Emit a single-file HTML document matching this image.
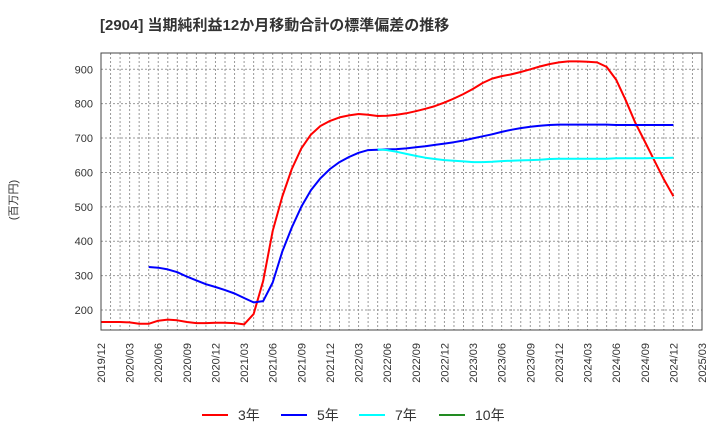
<!DOCTYPE html>
<html><head><meta charset="utf-8"><style>
body{margin:0;background:#fff;}
svg{display:block;font-family:"Liberation Sans","Noto Sans CJK JP",sans-serif;}
</style></head><body>
<svg id="c" width="720" height="440">
<text x="100" y="30" font-size="15" font-weight="bold" fill="#333">[2904]  当期純利益12か月移動合計の標準偏差の推移</text>
<text transform="translate(17,200) rotate(-90)" text-anchor="middle" font-size="11" fill="#333">(百万円)</text>
<g id="grid"></g><g id="ser"></g><g id="axes"></g><g id="legend"></g>
</svg>
<script>
const months=["2019/12","2020/03","2020/06","2020/09","2020/12","2021/03","2021/06","2021/09","2021/12","2022/03","2022/06","2022/09","2022/12","2023/03","2023/06","2023/09","2023/12","2024/03","2024/06","2024/09","2024/12","2025/03"];
const yTicks=[200,300,400,500,600,700,800,900];
const s3=[165,165,165,164,160,160,169,172,170,165,162,162,163,163,162,158,188,285,430,530,610,670,710,735,750,760,766,770,768,764,765,768,772,778,785,793,803,815,828,843,860,873,880,885,892,900,908,915,920,923,923,922,920,907,870,810,745,690,635,580,531];
const s5=[null,null,null,null,null,325,323,318,310,297,286,275,267,258,248,235,222,226,280,370,440,500,548,583,610,630,645,657,665,666,667,668,670,673,676,680,684,688,693,699,705,711,718,724,729,733,736,738,739,739,739,739,739,739,738,738,738,738,738,738,738];
const s7=[null,null,null,null,null,null,null,null,null,null,null,null,null,null,null,null,null,null,null,null,null,null,null,null,null,null,null,null,null,667,665,660,654,648,643,639,636,634,632,630,630,631,633,634,635,636,637,639,640,640,640,640,640,640,641,641,641,641,642,642,643];
const s10=[];
const NS="http://www.w3.org/2000/svg";
const L=101,R=702,T=53,B=330;
const xm=i=>L+i*(R-L)/63;
const yv=v=>310-(v-200)*0.3439;
function mk(tag,attrs,parent){const e=document.createElementNS(NS,tag);for(const k in attrs)e.setAttribute(k,attrs[k]);parent.appendChild(e);return e;}
const grid=document.getElementById('grid'),axes=document.getElementById('axes'),ser=document.getElementById('ser'),leg=document.getElementById('legend');
for(let i=1;i<63;i++){const l=mk('line',{x1:xm(i),x2:xm(i),y1:T,y2:B,stroke:'#999','stroke-dasharray':'2,2','stroke-width':1},grid);

}
yTicks.forEach(v=>{const l=mk('line',{x1:L,x2:R,y1:yv(v),y2:yv(v),stroke:'#999','stroke-dasharray':'2,2','stroke-width':1},grid);


const t=mk('text',{x:L-8,y:yv(v)+4,'text-anchor':'end','font-size':11,fill:'#333'},axes);t.textContent=v;

});
months.forEach((m,i)=>{const x=xm(i*3);const t=mk('text',{transform:`translate(${x+4},343) rotate(-90)`,'text-anchor':'end','font-size':11,fill:'#333'},axes);t.textContent=m;

});
const fr=mk('rect',{x:L,y:T,width:R-L,height:B-T,fill:'none',stroke:'#444','stroke-width':1},axes);


const series=[[s3,'#ff0000','3年','series-3y'],[s5,'#0000ff','5年','series-5y'],[s7,'#00ffff','7年','series-7y'],[s10,'#228b22','10年','series-10y']];
series.forEach(([d,c,n,name])=>{let p='';d.forEach((v,i)=>{if(v==null)return;p+=(p?'L':'M')+xm(i).toFixed(1)+','+yv(v).toFixed(1);});
if(p){const e=mk('path',{d:p,fill:'none',stroke:c,'stroke-width':2,'stroke-linejoin':'round'},ser);

}});
const lx=[202,281,359,439];
series.forEach(([d,c,n],i)=>{const g=mk('g',{},leg);


mk('line',{x1:lx[i],x2:lx[i]+26,y1:415,y2:415,stroke:c,'stroke-width':2},g);
const t=mk('text',{x:lx[i]+36,y:420,'font-size':14,fill:'#333'},g);t.textContent=n;});
</script>
</body></html>
